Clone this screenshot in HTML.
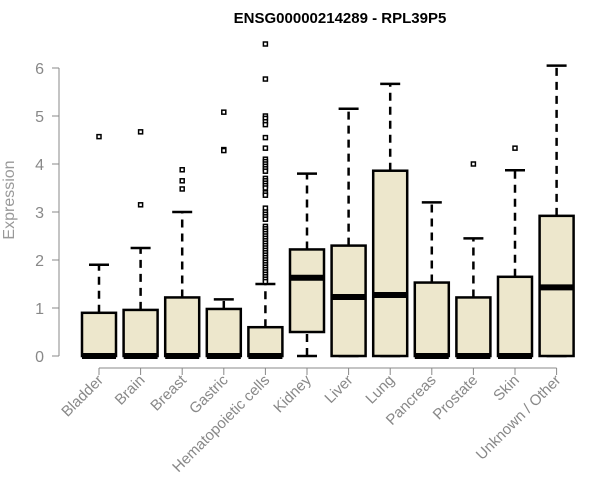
<!DOCTYPE html>
<html><head><meta charset="utf-8"><style>body{margin:0;background:#fff}svg{display:block}</style></head>
<body>
<svg id="c" width="600" height="500" xmlns="http://www.w3.org/2000/svg" font-family="Liberation Sans, Arial, sans-serif">
<text x="340" y="23" text-anchor="middle" font-weight="bold" font-size="15">ENSG00000214289 - RPL39P5</text>
<text transform="translate(14,200) rotate(-90)" text-anchor="middle" font-size="16" fill="#999">Expression</text>
<g id="g"></g>
</svg>
<script>
const categories=["Bladder","Brain","Breast","Gastric","Hematopoietic cells","Kidney","Liver","Lung","Pancreas","Prostate","Skin","Unknown / Other"];
const q1=[0,0,0,0,0,0.5,0,0,0,0,0,0];
const medians=[0,0,0,0,0,1.63,1.23,1.27,0,0,0,1.43];
const q3=[0.9,0.96,1.22,0.98,0.6,2.22,2.3,3.86,1.53,1.22,1.65,2.92];
const whiskLo=[0,0,0,0,0,0,0,0,0,0,0,0];
const whiskHi=[1.9,2.25,3.0,1.18,1.5,3.8,5.15,5.67,3.2,2.45,3.87,6.05];
const outliers=[[4.57],[4.67,3.15],[3.88,3.65,3.48],[5.08,4.3,4.28],
[6.5,5.77,5.0,4.95,4.88,4.82,4.55,4.33,4.1,4.05,4.0,3.95,3.9,3.85,3.7,3.65,3.6,3.55,3.5,3.4,3.35,3.08,3.0,2.95,2.9,2.85,2.7,2.65,2.6,2.55,2.5,2.45,2.4,2.35,2.3,2.25,2.2,2.15,2.1,2.05,2.0,1.95,1.9,1.85,1.8,1.75,1.7,1.65,1.6,1.55],
[],[],[],[],[4.0],[4.33],[]];
const yTicks=[0,1,2,3,4,5,6];
const y=v=>356-v*48;
const x=i=>99+i*41.6;
const g=document.getElementById('g');
function add(tag,attrs,text){const e=document.createElementNS('http://www.w3.org/2000/svg',tag);for(const k in attrs)e.setAttribute(k,attrs[k]);if(text!=null)e.textContent=text;g.appendChild(e);return e;}
let e=add('line',{x1:59,x2:59,y1:y(0),y2:y(6),stroke:'#888'});


yTicks.forEach(t=>{
 let l=add('line',{x1:52,x2:59,y1:y(t),y2:y(t),stroke:'#888'});
 
 
 let tx=add('text',{x:44,y:y(t)+6,'text-anchor':'end','font-size':16,fill:'#888'},t);
 
 
});
e=add('line',{x1:x(0),x2:x(11),y1:368,y2:368,stroke:'#888'});


categories.forEach((c,i)=>{
 const cx=x(i);
 let l=add('line',{x1:cx,x2:cx,y1:368,y2:375,stroke:'#888'});
 
 
 let tx=add('text',{transform:`translate(${cx+5},${381}) rotate(-45)`,'text-anchor':'end','font-size':15,fill:'#888'},c);
 
 
 let w1=add('line',{x1:cx,x2:cx,y1:y(q3[i]),y2:y(whiskHi[i]),stroke:'#000','stroke-width':2.5,'stroke-dasharray':'8,6'});
 
 
 let c1=add('line',{x1:cx-10,x2:cx+10,y1:y(whiskHi[i]),y2:y(whiskHi[i]),stroke:'#000','stroke-width':2.5});
 
 
 let c2=add('line',{x1:cx-10,x2:cx+10,y1:y(whiskLo[i]),y2:y(whiskLo[i]),stroke:'#000','stroke-width':2.5});
 
 
 if(q1[i]>whiskLo[i]){let w2=add('line',{x1:cx,x2:cx,y1:y(whiskLo[i]),y2:y(q1[i]),stroke:'#000','stroke-width':2.5,'stroke-dasharray':'8,6'});
 
 }
 let b=add('rect',{x:cx-17,y:y(q3[i]),width:34,height:y(q1[i])-y(q3[i]),fill:'#ede7cc',stroke:'#000','stroke-width':2.5});
 
 
 let m=add('line',{x1:cx-17,x2:cx+17,y1:y(medians[i]),y2:y(medians[i]),stroke:'#000','stroke-width':6});
 
 
 outliers[i].forEach(v=>{
  let o=add('rect',{x:cx-2,y:y(v)-2,width:4,height:4,fill:'#fff',stroke:'#000','stroke-width':1.5});
  
  
 });
});
</script>
</body></html>
